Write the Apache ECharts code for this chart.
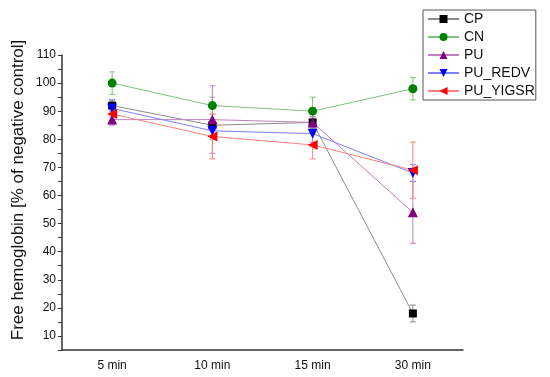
<!DOCTYPE html>
<html><head><meta charset="utf-8">
<script src="https://cdn.jsdelivr.net/npm/echarts@6/dist/echarts.min.js"></script>
<style>html,body{margin:0;padding:0;background:#fff}#c{width:550px;height:377px}</style>
</head><body><div id="c"></div>
<script>
const categories = ['5 min', '10 min', '15 min', '30 min'];
const seriesNames = ['CP', 'CN', 'PU', 'PU_REDV', 'PU_YIGSR'];
const CP = [92, 85, 86, 18];
const CP_err = [2, 2, 2, 3];
const CN = [100, 92, 90, 98];
const CN_err = [4, 3, 5, 4];
const PU = [87, 87, 86, 54];
const PU_err = [2, 12, 2, 11];
const PU_REDV = [91, 83, 82, 68];
const PU_REDV_err = [3, 3, 3, 3];
const PU_YIGSR = [89, 81, 78, 69];
const PU_YIGSR_err = [3, 8, 5, 10];
const yTitle = 'Free hemoglobin [% of negative control]';

const values = [CP, CN, PU, PU_REDV, PU_YIGSR];
const errs = [CP_err, CN_err, PU_err, PU_REDV_err, PU_YIGSR_err];
const markColors = ['#000000', '#008000', '#800080', '#0000ff', '#ff0000'];
const lineColors = ['#8c8c8c', '#80c080', '#c080c0', '#8080ff', '#ff8080'];
const symbols = ['rect', 'circle', 'triangle', 'triangle', 'triangle'];
const symbolRot = [0, 0, 0, 180, 90];
const symbolSizes = [8, 9, 10, 10, 10];
const font = 'Arial, "Liberation Sans", sans-serif';

const series = [];
seriesNames.forEach((n, i) => {
  series.push({
    type: 'custom',
    name: n + '_err',
    xAxisIndex: 0,
    z: 1,
    data: values[i].map((v, k) => [k, v - errs[i][k], v + errs[i][k]]),
    renderItem: function (params, api) {
      const x = api.value(0);
      const lo = api.coord([x, api.value(1)]);
      const hi = api.coord([x, api.value(2)]);
      const w = 3;
      const st = { stroke: lineColors[i], lineWidth: 1 };
      return { type: 'group', children: [
        { type: 'line', shape: { x1: lo[0], y1: lo[1], x2: hi[0], y2: hi[1] }, style: st },
        { type: 'line', shape: { x1: lo[0] - w, y1: lo[1], x2: lo[0] + w, y2: lo[1] }, style: st },
        { type: 'line', shape: { x1: hi[0] - w, y1: hi[1], x2: hi[0] + w, y2: hi[1] }, style: st }
      ]};
    },
    silent: true
  });
});
seriesNames.forEach((n, i) => {
  series.push({
    type: 'line',
    name: n,
    xAxisIndex: 0,
    z: 3,
    data: values[i],
    symbol: symbols[i],
    symbolRotate: symbolRot[i],
    symbolSize: symbolSizes[i],
    showAllSymbol: true,
    lineStyle: { color: lineColors[i], width: 1 },
    itemStyle: { color: markColors[i] },
    animation: false
  });
});

const chart = echarts.init(document.getElementById('c'), null, { renderer: 'canvas' });
chart.setOption({
  animation: false,
  backgroundColor: '#fff',
  grid: { left: 62, right: 87, top: 55, bottom: 27 },
  legend: {
    data: seriesNames,
    orient: 'vertical',
    left: 423, top: 10,
    padding: [2, 1, 2, 4],
    itemWidth: 31, itemHeight: 10,
    itemGap: 4,
    borderColor: '#555', borderWidth: 1,
    backgroundColor: '#fff',
    textStyle: { fontFamily: font, fontSize: 14, color: '#111' }
  },
  xAxis: [{
    type: 'category', data: categories, boundaryGap: true,
    axisLine: { lineStyle: { color: '#333', width: 1.5 } },
    axisTick: { alignWithLabel: true, length: 5, lineStyle: { color: '#333' } },
    axisLabel: { fontFamily: font, fontSize: 12, color: '#111', margin: 10 },
    splitLine: { show: false }
  }, {
    type: 'category', data: categories, boundaryGap: true, position: 'bottom',
    axisLine: { show: false },
    axisTick: { length: 3, lineStyle: { color: '#333' } },
    axisLabel: { show: false },
    splitLine: { show: false }
  }],
  yAxis: {
    type: 'value', min: 5, max: 110, interval: 5,
    axisLine: { show: true, lineStyle: { color: '#333', width: 1.5 } },
    axisTick: { show: true, length: 4, lineStyle: { color: '#333' } },
    axisLabel: { fontFamily: font, fontSize: 12, color: '#111', margin: 6,
      formatter: v => (v % 10 === 0 ? String(v) : '') },
    splitLine: { show: false }
  },
  graphic: [{
    type: 'text', x: 18, y: 190, rotation: Math.PI / 2,
    style: { text: yTitle, fontFamily: font, fontSize: 17, fill: '#111',
      textAlign: 'center', textVerticalAlign: 'middle' }
  }],
  series: series
});
</script></body></html>
